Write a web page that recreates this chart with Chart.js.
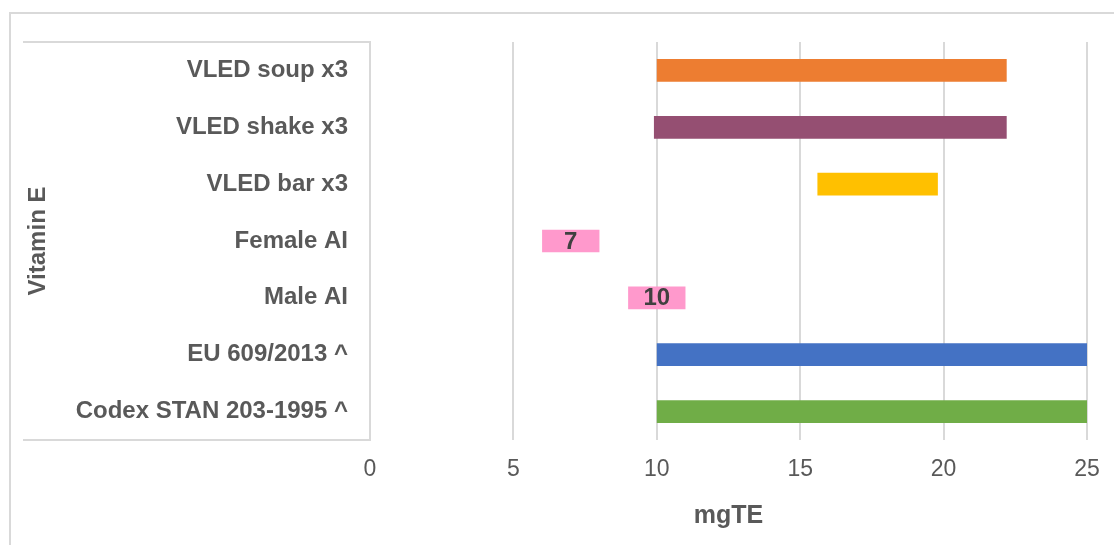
<!DOCTYPE html>
<html>
<head>
<meta charset="utf-8">
<script src="https://cdn.jsdelivr.net/npm/chart.js@4/dist/chart.umd.min.js"></script>
<style>
  body { margin: 0; background: #fff; }
  #frame {
    position: absolute; left: 9px; top: 12px;
    width: 1105px; height: 533px;
    border-top: 2px solid #d9d9d9; border-left: 2px solid #d9d9d9;
  }
  #chart { display: block; }
</style>
</head>
<body>
<div id="frame"><canvas id="chart" width="1103" height="531"></canvas></div>
<script>
// categories, top to bottom
const categories = ['VLED soup x3', 'VLED shake x3', 'VLED bar x3', 'Female AI', 'Male AI', 'EU 609/2013 ^', 'Codex STAN 203-1995 ^'];
// range start / end (mgTE)
const rangeStart = [10, 9.9, 15.6, 6, 9, 10, 10];
const rangeEnd = [22.2, 22.2, 19.8, 8, 11, 25, 25];
// text shown inside the bar
const barLabels = ['', '', '', '7', '10', '', ''];
const barColors = ['#ED7D31', '#954F72', '#FFC000', '#FF99CC', '#FF99CC', '#4472C4', '#70AD47'];
const xTicks = [0, 5, 10, 15, 20, 25];

const FONT = "'Liberation Sans', Arial, sans-serif";
const GRID = '#d9d9d9';
const TEXT = '#595959';

const ranges = rangeStart.map((s, i) => [s, rangeEnd[i]]);

// the boxed category column like Excel draws it
const axisBox = {
  id: 'axisBox',
  beforeDatasetsDraw(chart) {
    const { ctx, chartArea } = chart;
    ctx.save();
    ctx.strokeStyle = GRID;
    ctx.lineWidth = 2;
    ctx.beginPath();
    ctx.moveTo(12, chartArea.top);
    ctx.lineTo(chartArea.left, chartArea.top);
    ctx.lineTo(chartArea.left, chartArea.bottom);
    ctx.lineTo(12, chartArea.bottom);
    ctx.stroke();
    ctx.restore();
  }
};

const inBarText = {
  id: 'inBarText',
  afterDatasetsDraw(chart) {
    const { ctx } = chart;
    const meta = chart.getDatasetMeta(0);
    ctx.save();
    ctx.font = 'bold 24px ' + FONT;
    ctx.fillStyle = '#404040';
    ctx.textAlign = 'center';
    ctx.textBaseline = 'middle';
    meta.data.forEach((bar, i) => {
      if (!barLabels[i]) return;
      const cx = (bar.x + bar.base) / 2;
      ctx.fillText(barLabels[i], cx, bar.y + 1);
    });
    ctx.restore();
  }
};

new Chart(document.getElementById('chart'), {
  type: 'bar',
  data: {
    labels: categories,
    datasets: [{
      data: ranges,
      backgroundColor: barColors,
      borderWidth: 0,
      borderSkipped: false,
      barPercentage: 0.4,
      categoryPercentage: 1
    }]
  },
  options: {
    indexAxis: 'y',
    responsive: false,
    animation: false,
    layout: { padding: { top: 28, right: 27, left: 0, bottom: 0 } },
    plugins: { legend: { display: false }, tooltip: { enabled: false } },
    scales: {
      x: {
        min: 0, max: 25,
        afterFit(scale) {
          scale.height = 105;
          scale.paddingLeft = 0;
          scale.paddingRight = 0;
        },
        afterBuildTicks(scale) { scale.ticks = xTicks.map(v => ({ value: v })); },
        ticks: { font: { family: FONT, size: 23 }, color: TEXT, padding: 16 },
        grid: { color: GRID, lineWidth: 2, drawTicks: false },
        border: { display: false },
        title: {
          display: true, text: 'mgTE', color: TEXT,
          font: { family: FONT, size: 25, weight: 'bold' },
          padding: { top: 0, bottom: 14 }
        }
      },
      y: {
        afterFit(scale) {
          scale.width = 359;
          scale.paddingTop = 0;
          scale.paddingBottom = 0;
        },
        ticks: { font: { family: FONT, size: 24, weight: 'bold' }, color: TEXT, padding: 22 },
        grid: { display: false, drawTicks: false },
        border: { display: false },
        title: {
          display: true, text: 'Vitamin E', color: TEXT,
          font: { family: FONT, size: 24, weight: 'bold' },
          padding: { top: 13, bottom: 0 }
        }
      }
    }
  },
  plugins: [axisBox, inBarText]
});
</script>
</body>
</html>
